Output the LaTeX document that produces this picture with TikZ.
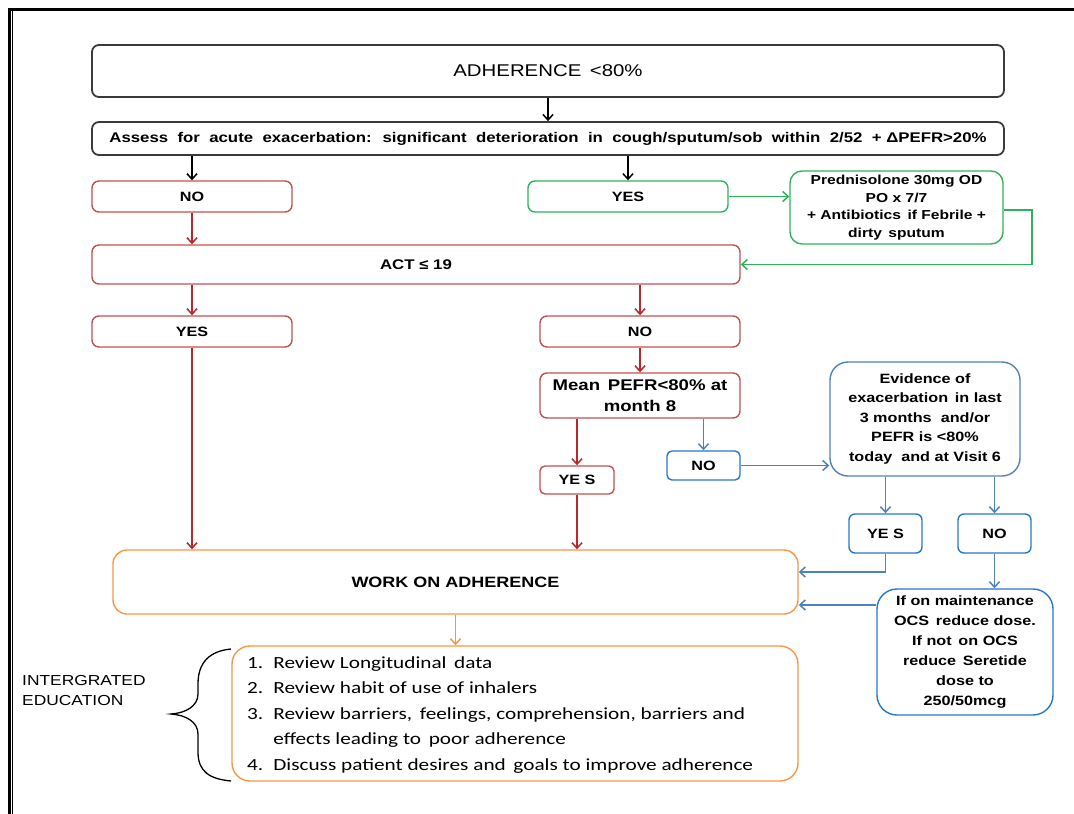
\documentclass[tikz,border=0pt]{standalone}
\usepackage{fontspec}
\setmainfont{Liberation Sans}[FakeStretch=1.2]
\newfontfamily\listfont{Carlito}[FakeStretch=1.25]
\usetikzlibrary{arrows.meta,calc}

\definecolor{kline}{HTML}{3A3A3A}
\definecolor{rline}{HTML}{C0504D}
\definecolor{rarrow}{HTML}{B8282A}
\definecolor{gline}{HTML}{2DB35A}
\definecolor{bline}{HTML}{2878C8}
\definecolor{barrow}{HTML}{4F81BD}
\definecolor{oline}{HTML}{F79646}

\begin{document}
\begin{tikzpicture}[x=1pt,y=-1pt,
  box/.style={draw, rounded corners=7pt, line width=1.4pt, align=center, inner sep=0pt},
  kbox/.style={box, draw=kline, line width=1.8pt},
  rbox/.style={box, draw=rline},
  gbox/.style={box, draw=gline},
  bbox/.style={box, draw=bline},
  obox/.style={box, draw=oline},
  tip/.style={-{Straight Barb[length=5.5pt,width=10pt]}, line width=1.5pt},
  karrow/.style={tip, draw=black},
  rarr/.style={tip, draw=rarrow},
  garr/.style={tip, draw=gline},
  barr/.style={tip, draw=barrow},
  oarr/.style={tip, draw=oline},
  small/.style={font=\fontsize{13.5}{17}\selectfont\bfseries},
]
\useasboundingbox (0,0) rectangle (1074,814);

% outer frame, only its top and left edges fall inside the page
\draw[line width=2.7pt] (8,9.7) -- (1074,9.7);
\draw[line width=2.5pt] (9.5,8.5) -- (9.5,814);
\draw[line width=0.8pt] (12.3,11) -- (12.3,814);

% top of the chart
\node[kbox, minimum width=912pt, minimum height=52pt, font=\fontsize{17}{20}\selectfont] (adh) at (548,71) {ADHERENCE \,<80\%};
\node[kbox, minimum width=912pt, minimum height=33pt, font=\fontsize{14}{16}\selectfont\bfseries] (assess) at (548,138.5)
  {Assess \ for \ acute \ exacerbation: \ significant \ deterioration \ in \ cough/sputum/sob \ within \ 2/52 \ + ΔPEFR>20\%};

% exacerbation branch
\node[rbox, small, minimum width=200pt, minimum height=31pt] (no1) at (192,196.5) {NO};
\node[gbox, small, minimum width=200pt, minimum height=31pt] (yes1) at (628,196.5) {YES};
\node[gbox, font=\fontsize{13}{17.5}\selectfont\bfseries, rounded corners=12pt, minimum width=213pt, minimum height=73pt] (pred) at (896.5,207.5)
  {Prednisolone 30mg OD\\PO x 7/7\\+ Antibiotics \,if Febrile +\\dirty \,sputum};
\coordinate (gturn) at (1032,210);

% asthma control test
\node[rbox, minimum width=648pt, minimum height=39pt, font=\fontsize{14}{17}\selectfont\bfseries] (act) at (416,264.5) {ACT ≤ 19};
\node[rbox, small, minimum width=200pt, minimum height=31pt] (yes2) at (192,331.5) {YES};
\node[rbox, small, minimum width=200pt, minimum height=31pt] (no2) at (640,331.5) {NO};
\node[rbox, minimum width=200pt, minimum height=45pt, font=\fontsize{15.5}{21}\selectfont\bfseries] (mean) at (640,395.5) {Mean \,PEFR<80\% at\\month 8};
\node[rbox, small, rounded corners=5pt, minimum width=74pt, minimum height=28pt] (yes3) at (577,480) {YE S};
\node[bbox, small, rounded corners=5pt, minimum width=73pt, minimum height=29pt] (no3) at (703.5,465.5) {NO};
\node[bbox, draw=barrow, font=\fontsize{13.5}{19.5}\selectfont\bfseries, rounded corners=18pt, minimum width=190pt, minimum height=114pt] (evid) at (925,419)
  {Evidence of\\exacerbation \,in last\\3 months \ and/or\\PEFR is <80\%\\today \ and at Visit 6};
\node[bbox, small, rounded corners=6pt, minimum width=73pt, minimum height=39pt] (yes4) at (885.5,533.5) {YE S};
\node[bbox, small, rounded corners=6pt, minimum width=73pt, minimum height=39pt] (no4) at (994.5,533.5) {NO};

% adherence work and education
\node[obox, rounded corners=14pt, minimum width=685pt, minimum height=64pt, font=\fontsize{15}{18}\selectfont\bfseries] (work) at (455.5,582) {WORK ON ADHERENCE};
\node[bbox, font=\fontsize{13.5}{20}\selectfont\bfseries, rounded corners=20pt, minimum width=176pt, minimum height=126pt] (reduce) at (965,652)
  {If on maintenance\\OCS \,reduce dose.\\If not \,on OCS\\reduce \,Seretide\\dose to\\250/50mcg};
\node[obox, rounded corners=18pt, minimum width=566pt, minimum height=135pt] (list) at (515,713.5) {};
\node[anchor=west, inner sep=0pt, align=left, font=\listfont\fontsize{17}{25.5}\selectfont] (listtext) at (247,714)
  {\begin{tabular}{@{}l@{\hspace{10pt}}l@{}}
   1. & Review Longitudinal \,data\\
   2. & Review habit of use of inhalers\\
   3. & Review barriers, \,feelings, comprehension, barriers and\\
      & effects leading to \,poor adherence\\
   4. & Discuss patient desires and \,goals to improve adherence
   \end{tabular}};
\node[anchor=west, inner sep=0pt, align=left, font=\fontsize{14.5}{20}\selectfont] (edu) at (22,690) {INTERGRATED\\EDUCATION};

% curly brace joining the label to the list
\draw[line width=1.3pt] (231,649) .. controls (210,651) and (198,662) .. (198,684) -- (198,694)
  .. controls (198,706) and (186,713) .. (171,714)
  .. controls (186,715) and (198,722) .. (198,734) -- (198,752)
  .. controls (198,772) and (210,779) .. (231,781);

% connectors
\draw[karrow] (adh.south) -- (assess.north);
\draw[karrow] (no1.north |- assess.south) -- (no1.north);
\draw[karrow] (yes1.north |- assess.south) -- (yes1.north);
\draw[garr] (yes1.east) -- (yes1.east -| pred.west);
\draw[garr] (pred.east |- gturn) -- (gturn) |- (act.east);
\draw[rarr] (no1.south) -- (no1.south |- act.north);
\draw[rarr] (yes2.north |- act.south) -- (yes2.north);
\draw[rarr] (no2.north |- act.south) -- (no2.north);
\draw[rarr] (no2.south) -- (mean.north);
\draw[rarr] (yes3.north |- mean.south) -- (yes3.north);
\draw[barr] (no3.north |- mean.south) -- (no3.north);
\draw[barr] (no3.east) -- (no3.east -| evid.west);
\draw[barr] (yes4.north |- evid.south) -- (yes4.north);
\draw[barr] (no4.north |- evid.south) -- (no4.north);
\draw[rarr] (yes2.south) -- (yes2.south |- work.north);
\draw[rarr] (yes3.south) -- (yes3.south |- work.north);
\coordinate (win1) at ($(work.east)+(0,-10)$);
\coordinate (win2) at ($(work.east)+(0,23)$);
\draw[barr] (yes4.south) |- (win1);
\draw[barr] (no4.south) -- (no4.south |- reduce.north);
\draw[barr] (reduce.west |- win2) -- (win2);
\draw[oarr] (work.south) -- (work.south |- list.north);
\end{tikzpicture}
\end{document}
